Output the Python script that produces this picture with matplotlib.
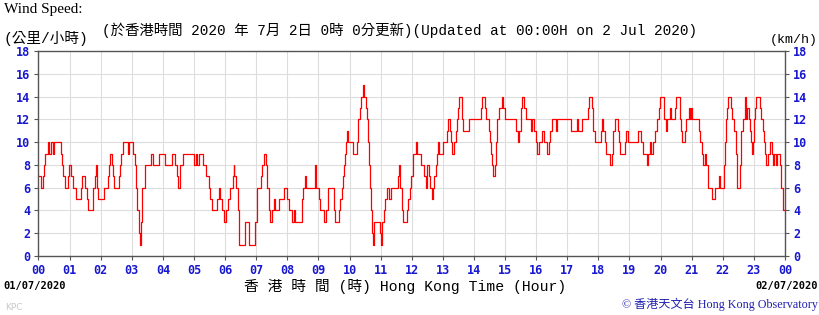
import matplotlib
matplotlib.use("Agg")
import matplotlib.pyplot as plt
import numpy as np

# ---- data (step changes: hour, km/h) ----
hours = [0.00,0.08,0.13,0.18,0.22,0.29,0.35,0.40,0.46,0.51,0.72,0.76,0.80,0.84,0.94,0.97,1.05,1.10,1.21,1.37,
         1.40,1.51,1.56,1.60,1.76,1.81,1.85,1.88,1.92,2.12,2.22,2.26,2.30,2.35,2.41,2.44,2.59,2.62,2.66,2.73,
         2.87,2.91,3.03,3.09,3.13,3.18,3.22,3.26,3.31,3.34,3.42,3.62,3.67,3.89,4.06,4.28,4.39,4.46,4.50,4.54,
         4.65,5.01,5.06,5.11,5.15,5.30,5.38,5.47,5.52,5.58,5.75,5.80,5.84,5.89,5.97,6.03,6.10,6.15,6.24,6.27,
         6.30,6.35,6.40,6.45,6.63,6.78,6.97,7.01,7.15,7.18,7.25,7.30,7.34,7.40,7.45,7.50,7.57,7.61,7.74,7.90,
         7.98,8.05,8.15,8.21,8.26,8.47,8.51,8.58,8.61,8.90,8.93,9.02,9.05,9.17,9.25,9.32,9.49,9.53,9.67,9.70,
         9.76,9.79,9.82,9.85,9.89,9.92,9.96,10.11,10.25,10.28,10.33,10.37,10.42,10.47,10.52,10.56,10.59,10.63,10.66,10.70,
         10.73,10.75,10.80,10.99,11.01,11.04,11.10,11.15,11.22,11.28,11.32,11.57,11.60,11.63,11.68,11.73,11.85,11.89,11.94,11.99,
         12.03,12.14,12.17,12.29,12.40,12.45,12.49,12.57,12.60,12.64,12.69,12.73,12.77,12.82,12.85,12.87,12.99,13.13,13.18,13.22,
         13.26,13.31,13.36,13.41,13.46,13.50,13.53,13.61,13.66,13.84,14.23,14.26,14.35,14.39,14.47,14.50,14.54,14.58,14.62,14.67,
         14.70,14.74,14.80,14.89,14.94,15.01,15.34,15.40,15.45,15.50,15.56,15.61,15.67,15.83,15.88,15.93,15.98,16.03,16.10,16.20,
         16.25,16.34,16.40,16.45,16.51,16.63,16.66,17.13,17.30,17.35,17.46,17.67,17.71,17.79,17.82,17.84,17.88,18.09,18.12,18.16,
         18.20,18.24,18.37,18.43,18.48,18.53,18.62,18.66,18.70,18.84,18.90,18.95,19.26,19.37,19.42,19.55,19.59,19.65,19.70,19.76,
         19.83,19.90,19.95,19.99,20.11,20.18,20.21,20.29,20.32,20.45,20.48,20.63,20.67,20.70,20.79,20.82,20.90,20.94,20.97,21.01,
         21.23,21.27,21.32,21.36,21.42,21.47,21.51,21.54,21.65,21.76,21.88,21.91,22.03,22.08,22.11,22.14,22.17,22.25,22.30,22.36,
         22.41,22.45,22.55,22.59,22.64,22.70,22.73,22.76,22.79,22.83,22.87,22.90,22.94,22.98,23.01,23.05,23.08,23.19,23.23,23.29,
         23.33,23.36,23.39,23.44,23.52,23.57,23.61,23.66,23.72,23.75,23.84,23.88,23.92,23.95,24.00]
speed = [7,6,7,8,9,10,9,10,9,10,9,8,7,6,7,8,7,6,5,6,
         7,6,5,4,6,7,8,6,5,6,7,8,9,8,7,6,7,8,9,10,
         9,10,9,8,6,4,2,1,3,6,8,9,8,9,8,9,8,7,6,8,
         9,8,9,8,9,8,7,6,5,4,5,6,5,4,3,4,5,6,7,8,
         7,6,4,1,3,1,3,6,7,8,9,8,6,4,3,4,5,4,5,6,
         5,4,3,4,3,5,6,7,6,8,6,5,4,3,4,6,4,3,4,5,
         6,7,8,9,10,11,10,9,10,12,13,14,15,14,13,12,10,8,6,4,
         2,1,3,2,1,3,4,5,6,5,6,7,8,6,4,3,4,5,6,7,
         9,10,9,8,7,6,8,7,6,5,6,7,8,9,10,9,10,11,12,11,
         10,9,10,11,12,13,14,12,11,12,13,14,13,12,11,10,9,8,7,8,
         10,12,13,14,13,12,11,10,11,13,14,13,12,11,12,11,10,9,10,11,
         10,9,10,11,12,11,12,11,12,11,12,13,14,13,12,11,10,11,12,11,
         10,9,8,9,11,12,11,10,9,10,11,10,11,10,9,8,9,10,9,10,
         11,12,13,14,12,11,12,13,12,13,14,12,11,10,11,12,13,12,13,12,
         11,10,9,8,9,8,7,6,5,6,7,6,8,10,12,13,14,13,12,11,
         9,6,8,11,12,13,14,12,13,12,11,10,9,10,12,13,14,13,12,11,
         10,9,8,9,10,9,8,9,8,9,8,6,5,4,4]
hour_labels = ["00","01","02","03","04","05","06","07","08","09","10","11","12",
               "13","14","15","16","17","18","19","20","21","22","23","00"]
y_ticks = [0, 2, 4, 6, 8, 10, 12, 14, 16, 18]

W, H = 820, 315
fig = plt.figure(figsize=(W/100, H/100), dpi=100)
ax = fig.add_axes([38.5/W, 1-256/H, (785-38.5)/W, (256-51)/H])

ax.plot(hours, speed, drawstyle="steps-post", color="#FF0000", lw=0.9)

ax.set_xlim(0, 24)
ax.set_ylim(0, 18)
ax.set_xticks(range(25))
ax.set_xticklabels(hour_labels)
ax.set_yticks(y_ticks)
ax.grid(True, color="#DDDDDD", lw=0.8)
ax.set_axisbelow(True)
for s in ax.spines.values():
    s.set_color("#555555")
    s.set_linewidth(1.0)

blue = "#1818D0"
ax.tick_params(axis="both", colors="#555555", labelcolor=blue, length=3, width=0.8)
ax.tick_params(axis="y", right=True, labelright=True, pad=3)
ax.tick_params(axis="x", pad=3)
for lab in ax.get_xticklabels() + ax.get_yticklabels():
    lab.set_fontfamily("DejaVu Sans Mono")
    lab.set_fontweight("bold")
    lab.set_fontsize(8.5)
for t in ax.yaxis.get_major_ticks():
    t.label2.set_fontfamily("DejaVu Sans Mono")
    t.label2.set_fontweight("bold")
    t.label2.set_fontsize(8.5)
    t.label2.set_color(blue)

cjk = ["Liberation Mono", "Noto Sans CJK TC"]

def px(x, y):
    return x / W, 1 - y / H

fig.text(*px(4, 10), "Wind Speed:", family="Liberation Serif", fontsize=11, va="center", ha="left")
fig.text(*px(3, 38), "(公里/小時)", family=cjk, fontsize=10.5, va="center", ha="left")
fig.text(*px(102, 30), "(於香港時間 2020 年 7月 2日 0時 0分更新)(Updated at 00:00H on 2 Jul 2020)",
         family=cjk, fontsize=10.4, va="center", ha="left")
fig.text(*px(818, 40), "(km/h)", family="Liberation Mono", fontsize=9.5, va="center", ha="right")

fig.text(*px(3, 286), "01/07/2020", family="DejaVu Sans Mono", weight="bold", fontsize=7.5,
         va="center", ha="left")
fig.text(*px(818, 286), "02/07/2020", family="DejaVu Sans Mono", weight="bold", fontsize=7.5,
         va="center", ha="right")
fig.text(*px(405, 286), "香 港 時 間 (時) Hong Kong Time (Hour)", family=cjk, fontsize=10.6,
         va="center", ha="center")
fig.text(*px(818, 304), "© 香港天文台 Hong Kong Observatory", family=["Liberation Serif", "Noto Sans CJK TC"],
         fontsize=8.7, color="#2020B0", va="center", ha="right")
fig.text(*px(5, 307), "KPC", family="DejaVu Sans", fontsize=6.5, color="#C8C8C8", va="center", ha="left")

fig.savefig("out.png", dpi=100)
